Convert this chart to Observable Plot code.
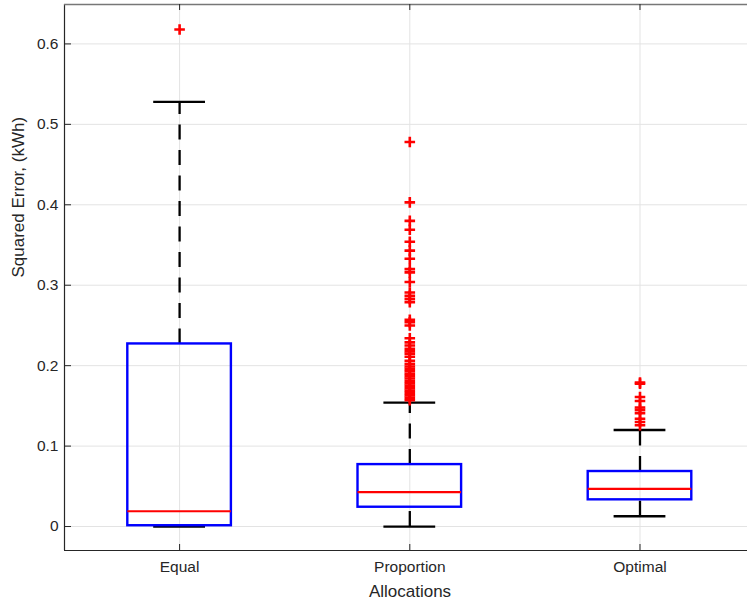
<!DOCTYPE html>
<html><head><meta charset="utf-8">
<script src="https://cdn.jsdelivr.net/npm/d3@7"></script>
<script src="https://cdn.jsdelivr.net/npm/@observablehq/plot@0.6"></script>
<style>body{margin:0;background:#fff}#chart svg{display:block}</style>
</head><body><div id="chart"></div>
<script>
const categories = ["Equal", "Proportion", "Optimal"];
const lowerWhisker = [0.0, 0.0, 0.0128];
const q1 = [0.001, 0.024, 0.0332];
const medians = [0.019, 0.0427, 0.0469];
const q3 = [0.227, 0.077, 0.0684];
const upperWhisker = [0.528, 0.154, 0.120];
const outliersEqual = [0.618];
const outliersProportion = [0.478, 0.403, 0.380, 0.369, 0.354, 0.343, 0.333, 0.320, 0.316, 0.304,
  0.291, 0.287, 0.283, 0.279, 0.257, 0.254, 0.250, 0.234, 0.229, 0.225, 0.221, 0.218, 0.215,
  0.211, 0.206, 0.202, 0.199, 0.196, 0.193, 0.190, 0.187, 0.184, 0.181, 0.178, 0.175, 0.172, 0.169,
  0.166, 0.163, 0.160, 0.157];
const outliersOptimal = [0.179, 0.1775, 0.161, 0.156, 0.148, 0.145, 0.141, 0.134, 0.130, 0.126];
const yTicks = [0, 0.1, 0.2, 0.3, 0.4, 0.5, 0.6];
const yDomain = [-0.0298, 0.649];
const xDomain = [0.5, 3.467];

const stats = categories.map((c, i) => ({
  pos: i + 1, name: c, lower: lowerWhisker[i], q1: q1[i], median: medians[i], q3: q3[i], upper: upperWhisker[i]
}));
const outliers = [outliersEqual, outliersProportion, outliersOptimal]
  .flatMap((arr, i) => arr.map(v => ({pos: i + 1, value: v})));

const W = 748, H = 603, mL = 64, mR = 1, mT = 4, mB = 53;
const plotW = W - mL - mR, plotH = H - mT - mB;
const boxHalf = 0.225, capHalf = 0.1125;
const axisColor = "#262626";
const tickFont = 15.5, labelFont = 17;

const chart = Plot.plot({
  width: W, height: H,
  marginLeft: mL, marginRight: mR, marginTop: mT, marginBottom: mB,
  style: {fontFamily: "'Liberation Sans', Arial, Helvetica, sans-serif", fontSize: tickFont + "px", color: axisColor, background: "#fff"},
  x: {type: "linear", domain: xDomain},
  y: {domain: yDomain},
  marks: [
    Plot.gridY(yTicks, {stroke: "#e3e3e3", strokeOpacity: 1}),
    Plot.gridX([1, 2, 3], {stroke: "#e3e3e3", strokeOpacity: 1}),
    // whiskers
    Plot.ruleX(stats, {x: "pos", y1: "q3", y2: "upper", stroke: "#000", strokeWidth: 2.3, strokeDasharray: "15,10.5"}),
    Plot.ruleX(stats, {x: "pos", y1: "lower", y2: "q1", stroke: "#000", strokeWidth: 2.3, strokeDasharray: "15,10.5"}),
    // caps
    Plot.ruleY(stats, {y: "upper", x1: d => d.pos - capHalf, x2: d => d.pos + capHalf, stroke: "#000", strokeWidth: 2.3}),
    Plot.ruleY(stats, {y: "lower", x1: d => d.pos - capHalf, x2: d => d.pos + capHalf, stroke: "#000", strokeWidth: 2.3}),
    // boxes
    Plot.rect(stats, {x1: d => d.pos - boxHalf, x2: d => d.pos + boxHalf, y1: "q1", y2: "q3", fill: "none", stroke: "#0000ff", strokeWidth: 2.4}),
    // medians
    Plot.ruleY(stats, {y: "median", x1: d => d.pos - boxHalf, x2: d => d.pos + boxHalf, stroke: "#ff0000", strokeWidth: 2.2}),
    // outliers
    Plot.dot(outliers, {x: "pos", y: "value", symbol: "plus", r: 3.5, stroke: "#ff0000", strokeWidth: 2.6}),
    // frame lines
    Plot.ruleX([xDomain[0]], {stroke: axisColor, strokeWidth: 1.2}),
    Plot.ruleY([yDomain[0]], {stroke: axisColor, strokeWidth: 1.2}),
    Plot.ruleY([yDomain[1]], {stroke: "#777", strokeWidth: 1.5}),
    // inward ticks
    Plot.tickY(yTicks, {y: d => d, insetRight: plotW - 7, stroke: axisColor, strokeWidth: 1}),
    Plot.tickX([1, 2, 3], {x: d => d, insetTop: plotH - 6, stroke: axisColor, strokeWidth: 1}),
    Plot.tickX([1, 2, 3], {x: d => d, insetBottom: plotH - 6, stroke: axisColor, strokeWidth: 1}),
    // axes labels
    Plot.axisY(yTicks, {tickSize: 0, tickPadding: 6, tickFormat: d3.format("~g"), label: null, fill: axisColor, fontSize: tickFont}),
    Plot.axisX([1, 2, 3], {tickSize: 0, tickPadding: 10, tickFormat: d => categories[d - 1], label: null, fill: axisColor, fontSize: tickFont}),
    Plot.text(["Squared Error, (kWh)"], {frameAnchor: "left", rotate: -90, dx: -46, fontSize: labelFont, fill: axisColor}),
    Plot.text(["Allocations"], {frameAnchor: "bottom", dy: 46, dx: 4, fontSize: labelFont, fill: axisColor})
  ]
});
document.getElementById("chart").appendChild(chart);
</script>
</body></html>
